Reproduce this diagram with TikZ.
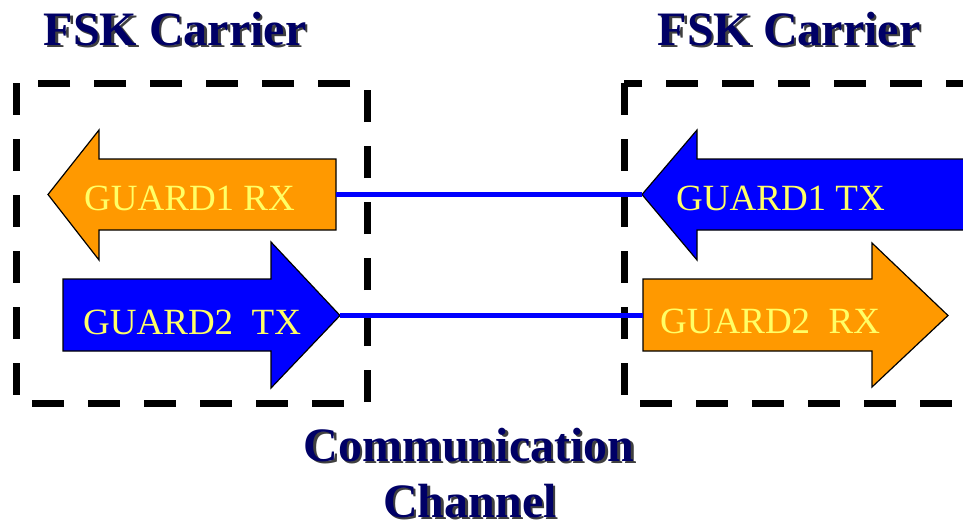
\documentclass[tikz,border=0pt]{standalone}
\usepackage{fontspec}
\setmainfont{Liberation Serif}
\definecolor{navy}{RGB}{0,0,102}
\definecolor{fskorange}{RGB}{255,153,0}
\definecolor{fskblue}{RGB}{0,0,255}
\definecolor{labelyellow}{RGB}{255,255,102}
\newcommand{\shadowed}[1]{\makebox[0pt][l]{\hspace{2.5pt}\raisebox{-2.5pt}{\color{black!75}#1}}#1}
\tikzset{
  boxline/.style={draw=black, line width=7pt, dash pattern=on 32pt off 24pt},
  arrowshape/.style={draw=black, line width=1.2pt, line join=miter},
  lbl/.style={text=labelyellow, font=\fontsize{37}{40}\selectfont, anchor=base west, inner sep=0pt},
  ttl/.style={text=navy, font=\fontsize{48}{52}\selectfont\bfseries, anchor=base, inner sep=0pt},
  wire/.style={draw=fskblue, line width=5pt}
}
\begin{document}
\begin{tikzpicture}[x=1pt,y=-1pt]
\useasboundingbox (0,0) rectangle (963,522);
\clip (0,0) rectangle (963,522);
% dashed boxes
\draw[boxline] (16,83) rectangle (367,403);
\draw[boxline] (624,83) rectangle (985,403);
% arrows
\draw[arrowshape, fill=fskorange] (336,159) -- (99,159) -- (99,130) -- (48,194.5) -- (99,260) -- (99,230) -- (336,230) -- cycle;
\coordinate (rxoneend) at (336,194.5);
\draw[arrowshape, fill=fskblue] (63,279) -- (271,279) -- (271,242) -- (340,315.5) -- (271,388) -- (271,351) -- (63,351) -- cycle;
\coordinate (txtwotip) at (340,315.5);
\draw[arrowshape, fill=fskblue] (975,159) -- (697,159) -- (697,130) -- (642,194.5) -- (697,260) -- (697,230) -- (975,230) -- cycle;
\coordinate (txonetip) at (642,194.5);
\draw[arrowshape, fill=fskorange] (643,279) -- (872,279) -- (872,243) -- (948,315.5) -- (872,387) -- (872,351) -- (643,351) -- cycle;
\coordinate (rxtwoend) at (643,315.5);
% wires
\draw[wire] (rxoneend) -- (txonetip);
\draw[wire] (txtwotip) -- (rxtwoend);
% labels
\node[lbl] (l1) at (84,210) {GUARD1 RX};
\node[lbl] (l2) at (83,334) {GUARD2\ \ TX};
\node[lbl] (l3) at (676,210) {GUARD1 TX};
\node[lbl] (l4) at (660,333) {GUARD2\ \ RX};
% titles with shadow
\node[ttl] (t1) at (175,45) {\shadowed{FSK Carrier}};
\node[ttl] (t2) at (789,45) {\shadowed{FSK Carrier}};
\node[ttl] (c1) at (469,461) {\shadowed{Communication}};
\node[ttl] (c2) at (470,517) {\shadowed{Channel}};
\end{tikzpicture}
\end{document}
